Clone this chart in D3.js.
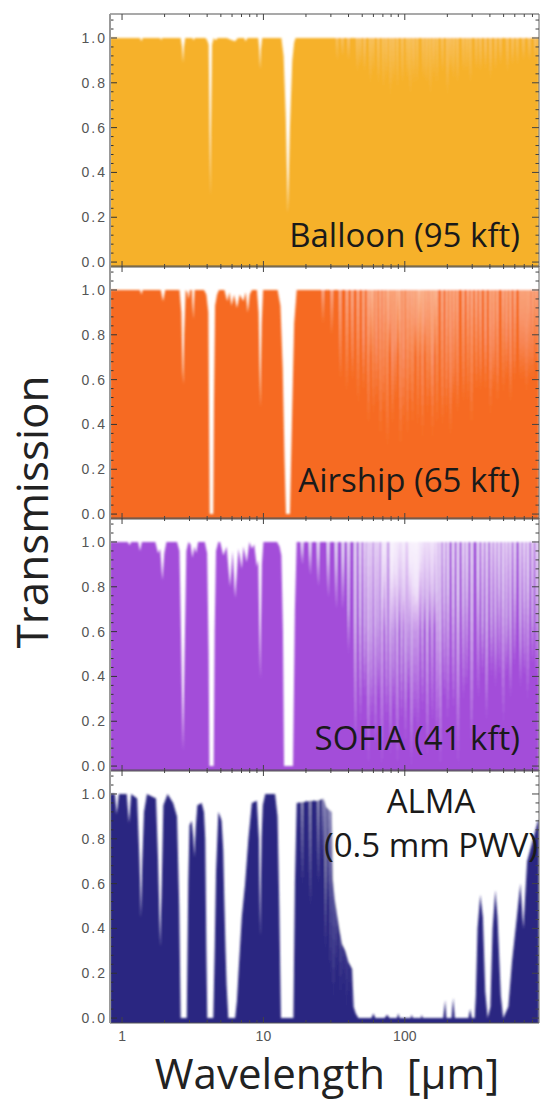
<!DOCTYPE html>
<html><head><meta charset="utf-8">
<script src="https://cdn.jsdelivr.net/npm/d3@7"></script>
<style>html,body{margin:0;padding:0;background:#fff;} svg{display:block;}</style>
</head><body>
<svg id="chart" width="542" height="1102"></svg>
<script>
// ---------- data ----------
const xTickValues = [1, 10, 100];
const xTickLabels = ["1", "10", "100"];
const xMinorTicks = [2,3,4,5,6,7,8,9,20,30,40,50,60,70,80,90,200,300,400,500,600,700,800];
const yTickValues = [0, 0.2, 0.4, 0.6, 0.8, 1.0];
const yTickLabels = ["0.0", "0.2", "0.4", "0.6", "0.8", "1.0"];
const yMinorTicks = [0.04,0.08,0.12,0.16,0.24,0.28,0.32,0.36,0.44,0.48,0.52,0.56,0.64,0.68,0.72,0.76,0.84,0.88,0.92,0.96,1.04,1.08];
const panelLabels = [["Balloon (95 kft)"], ["Airship (65 kft)"], ["SOFIA (41 kft)"], ["ALMA", "(0.5 mm PWV)"]];
const panelColors = ["#F6B12C", "#F66B22", "#A34DD9", "#2A2581"];

// [wavelength (µm), transmission]
const balloonSpectrum = [
 [0.822,1],[1.34,1],[1.37,0.985],[1.40,1],[1.86,1],[1.89,0.99],[1.92,1],
 [2.60,1],[2.66,0.96],[2.70,0.89],[2.74,0.96],[2.80,1],
 [3.15,1],[3.2,0.99],[3.28,1],[3.9,1],[4.0,0.99],[4.1,0.97],[4.16,0.6],[4.2,0.3],[4.26,0.6],[4.33,0.97],[4.45,1],
 [4.6,0.99],[4.75,1],[5.5,1],[6.0,0.99],[6.3,0.985],[6.6,1],[7.3,1],[7.5,0.985],[7.7,1],
 [9.2,1],[9.35,0.95],[9.47,0.86],[9.6,0.95],[9.8,1],
 [13.4,1],[13.9,0.92],[14.4,0.65],[14.9,0.22],[15.4,0.6],[16.0,0.9],[16.5,0.98],[16.9,1],
 [890,1]
];
const airshipSpectrum = [
 [0.822,1],[1.34,1],[1.37,0.98],[1.40,1],[1.88,1],[1.95,0.95],[2.02,1],
 [2.55,1],[2.63,0.9],[2.68,0.65],[2.71,0.58],[2.75,0.8],[2.82,1],
 [2.9,0.99],[2.96,0.96],[3.02,1],[3.12,1],[3.19,0.87],[3.26,1],
 [3.8,1],[3.95,0.98],[4.08,0.9],[4.14,0.3],[4.17,0],[4.42,0],[4.47,0.5],[4.55,0.93],[4.7,0.98],[4.85,1],
 [5.3,1],[5.55,0.95],[5.75,0.99],[5.95,0.93],[6.2,0.98],[6.5,0.92],[6.8,0.98],[7.2,0.95],[7.5,0.99],[7.75,0.9],[8.0,0.98],[8.3,1],
 [9.0,1],[9.25,0.9],[9.5,0.48],[9.72,0.85],[9.95,1],
 [12.6,1],[13.2,0.93],[13.7,0.65],[14.1,0.25],[14.45,0],[15.4,0],[15.9,0.4],[16.5,0.85],[17.2,1],
 [890,1]
];
const sofiaSpectrum = [
 [0.822,1],[1.10,1],[1.13,0.985],[1.16,1],[1.30,1],[1.34,0.96],[1.38,1],
 [1.72,1],[1.80,0.95],[1.86,0.97],[1.93,0.83],[1.99,0.95],[2.06,1],
 [2.45,1],[2.55,0.96],[2.62,0.55],[2.70,0.07],[2.77,0.5],[2.85,0.96],[2.95,1],
 [3.05,0.99],[3.15,0.93],[3.25,0.98],[3.35,0.95],[3.45,1],
 [3.85,1],[4.0,0.95],[4.1,0.5],[4.15,0],[4.45,0],[4.52,0.6],[4.62,0.96],[4.8,1],
 [4.94,1],[5.21,0.94],[5.49,0.98],[5.81,0.8],[6.06,0.96],[6.31,0.75],[6.66,0.97],[7.03,0.88],[7.22,0.98],[7.62,0.91],[7.96,1],[8.28,0.97],[8.6,0.99],[8.99,0.89],
 [9.2,0.92],[9.48,0.39],[9.75,0.9],[10.0,1],
 [12.5,1],[13.0,0.98],[13.4,0.94],[13.75,0.6],[14.0,0],[16.2,0],[16.7,0.7],[17.2,1],
 [890,1]
];
const almaSpectrum = [
 [0.822,1],[0.89,1],[0.917,0.91],[0.95,1],[1.08,1],[1.12,0.87],[1.16,1],
 [1.28,0.98],[1.33,0.7],[1.36,0.45],[1.39,0.7],[1.43,0.92],[1.50,1],
 [1.74,0.98],[1.80,0.7],[1.86,0.32],[1.91,0.6],[1.96,0.95],[2.10,1],
 [2.30,0.96],[2.45,0.9],[2.54,0.5],[2.60,0],[2.87,0],[2.94,0.6],[3.0,0.86],[3.11,0.88],[3.2,0.8],[3.25,0.72],[3.32,0.85],[3.41,0.95],[3.66,0.96],[3.8,0.92],[3.88,0.8],[3.95,0.3],[4.01,0],
 [4.42,0],[4.52,0.3],[4.62,0.65],[4.8,0.92],[4.95,0.9],[5.06,0.88],[5.2,0.75],[5.28,0.55],[5.4,0.3],[5.49,0.15],[5.65,0],
 [6.31,0],[6.5,0.08],[6.66,0.2],[7.03,0.45],[7.42,0.6],[7.83,0.8],[8.28,0.96],[8.99,0.97],[9.3,0.8],[9.48,0.37],[9.7,0.8],[9.9,0.95],[10.3,1],
 [12.1,1],[12.6,0.9],[12.96,0.5],[13.3,0],[16.3,0],[16.7,0.6],[17.2,0.96],[21.4,0.97],[24,0.97],[26.6,0.98],[28,0.94],[30.5,0.92],[31,0.62],[32,0.53],[34,0.42],[36,0.33],[38,0.30],[40,0.25],[42.5,0.22],[43.5,0.05],[45,0.02],[47,0],
 [58,0],[60,0.02],[62,0],[72,0],[75,0.015],[78,0],[88,0],[90,0.02],[92,0],[110,0],[112,0.015],[114,0],[130,0],[132,0.015],[134,0],
 [187,0],[193,0.08],[197,0],[214,0],[220,0.09],[226,0],[282,0],[290,0.04],[298,0],[312,0],[318,0.1],[327,0.4],[342,0.55],[357,0.45],[371,0.12],[386,0],[403,0.05],[418,0.4],[437,0.57],[453,0.45],[478,0.1],[497,0],[540,0.05],[573,0.25],[620,0.45],[657,0.6],[690,0.4],[733,0.7],[810,0.8],[875,0.88],[890,0.88]
];

// narrow absorption lines: [wavelength (µm), minimum transmission]
const balloonLines = [[33.2,0.9],[36.1,0.92],[40,0.9],[46.1,0.85],[48.4,0.88],[52,0.85],[56.9,0.8],[59.7,0.85],[64.9,0.8],[70.3,0.78],[74,0.82],[78.9,0.75],[83,0.8],[88.3,0.78],[95.9,0.8],[104,0.82],[109,0.75],[115,0.8],[122,0.8],[135,0.82],[143,0.8],[151,0.75],[160,0.82],[169,0.8],[184,0.85],[200,0.75],[210,0.85],[222,0.82],[235,0.8],[259,0.85],[275,0.85],[290,0.8],[320,0.86],[342,0.85],[372,0.86],[403,0.82],[440,0.86],[474,0.88],[531,0.85],[580,0.88],[624,0.88],[689,0.9],[760,0.9],[840,0.9]];
const airshipLines = [[26.4,0.85],[30.5,0.8],[34.9,0.6],[39.0,0.55],[42.5,0.6],[46.7,0.5],[51,0.55],[55.1,0.4],[57.5,0.7],[59.7,0.45],[63,0.5],[67.0,0.35],[71,0.45],[75.0,0.3],[78,0.7],[81.9,0.4],[86,0.5],[89.5,0.7],[92.9,0.3],[98,0.4],[104,0.35],[109,0.5],[114,0.4],[119,0.7],[124,0.4],[128,0.7],[133,0.35],[138,0.7],[144,0.45],[151,0.5],[157,0.35],[163,0.7],[169,0.4],[184,0.4],[198,0.45],[210,0.35],[222,0.5],[235,0.45],[259,0.5],[280,0.5],[298,0.4],[320,0.55],[342,0.55],[372,0.55],[403,0.45],[425,0.55],[451,0.5],[496,0.55],[525,0.6],[558,0.5],[600,0.6],[657,0.6],[690,0.6],[725,0.55],[760,0.6],[804,0.6],[850,0.65]];
const sofiaLines = [[18.8,0.9],[21.4,0.85],[24.4,0.8],[28.7,0.75],[32.7,0.7],[36.5,0.7],[40,0.5],[44.6,0.1],[48.4,0.2],[52,0.3],[55.1,0.0],[58,0.2],[61.8,0.1],[65,0.3],[69.0,0.0],[71.5,0.6],[74,0.2],[78.9,0.05],[81,0.6],[83,0.25],[85.5,0.6],[88.3,0.0],[91.5,0.6],[95,0.2],[98,0.6],[101,0.1],[106,0.3],[109,0.6],[112,0.0],[115,0.6],[118,0.2],[121,0.6],[124,0.15],[128,0.6],[133,0.25],[138,0.6],[144,0.05],[150,0.6],[156,0.2],[162,0.6],[169,0.1],[178,0.0],[190,0.3],[202,0.2],[220,0.25],[238,0.0],[259,0.3],[275,0.35],[298,0.1],[330,0.3],[355,0.4],[380,0.2],[410,0.4],[437,0.35],[465,0.4],[496,0.2],[525,0.4],[558,0.3],[600,0.45],[657,0.35],[700,0.4],[743,0.3],[800,0.45],[859,0.4]];
const almaLines = [[18.8,0.6],[21.4,0.5],[24.4,0.6],[26.4,0.7],[27.5,0.3],[29,0.5],[30,0.2],[31.5,0.1],[33,0.2],[35,0.1],[37,0.15],[39,0.05],[41,0.1],[43,0.02]];

const spectra = [balloonSpectrum, airshipSpectrum, sofiaSpectrum, almaSpectrum];
const lineLists = [balloonLines, airshipLines, sofiaLines, almaLines];

// ---------- layout / style ----------
const svg = d3.select("#chart");
const left = 110, right = 539;
const panelTop = [14, 266, 518, 770];
const panelH = 253;
const streakW = [1.3, 1.8, 2.6, 1.8];
const streakO = [0.45, 0.6, 0.85, 0.6];
const labelBaselines = [[247], [492], [750], [813, 857]];

const x = d3.scaleLog().domain([0.822, 890]).range([left, right]);
const defs = svg.append("defs");
const blur = defs.append("filter").attr("id", "soft")
  .attr("x", "-2%").attr("y", "-2%").attr("width", "104%").attr("height", "104%");
blur.append("feGaussianBlur").attr("stdDeviation", 0.8);

spectra.forEach((spec, i) => {
  const top = panelTop[i], bottom = top + panelH;
  const y = d3.scaleLinear().domain([-0.022, 1.107]).range([bottom, top]);
  const g = svg.append("g");
  defs.append("clipPath").attr("id", "clip" + i)
    .append("rect").attr("x", left).attr("y", top).attr("width", right - left).attr("height", panelH);
  const plot = g.append("g").attr("clip-path", `url(#clip${i})`).append("g").attr("filter", "url(#soft)");
  const area = d3.area().x(d => x(d[0])).y0(bottom + 4).y1(d => y(d[1]));
  plot.append("path").datum(spec).attr("d", area).attr("fill", panelColors[i]);
  const w = streakW[i];
  plot.selectAll("polygon.line").data(lineLists[i]).join("polygon")
    .attr("points", d => {
      const cx = x(d[0]), y1 = y(1.0) - 1, y2 = y(d[1]);
      return `${cx - w/2},${y1} ${cx + w/2},${y1} ${cx},${y2}`;
    })
    .attr("fill", "#fff").attr("fill-opacity", streakO[i]);

  // frame
  g.append("line").attr("x1", left).attr("x2", right).attr("y1", top).attr("y2", top).attr("stroke", "#555").attr("stroke-width", 1.2);
  g.append("line").attr("x1", left).attr("x2", right).attr("y1", bottom).attr("y2", bottom).attr("stroke", "#555").attr("stroke-width", 1.2);
  g.append("line").attr("x1", right).attr("x2", right).attr("y1", top).attr("y2", bottom).attr("stroke", "#666").attr("stroke-width", 1);

  // x ticks (top & bottom, inward)
  const xt = [...xTickValues.map(v => [v, 6]), ...xMinorTicks.map(v => [v, 3])];
  xt.forEach(([v, len]) => {
    g.append("line").attr("x1", x(v)).attr("x2", x(v)).attr("y1", top).attr("y2", top + len).attr("stroke", "#444");
    g.append("line").attr("x1", x(v)).attr("x2", x(v)).attr("y1", bottom).attr("y2", bottom - len).attr("stroke", "#444");
  });
  // y ticks (left & right, inward)
  const yt = [...yTickValues.map(v => [v, 7]), ...yMinorTicks.map(v => [v, 3.5])];
  yt.forEach(([v, len]) => {
    g.append("line").attr("x1", left).attr("x2", left + len).attr("y1", y(v)).attr("y2", y(v)).attr("stroke", "#333");
    g.append("line").attr("x1", right).attr("x2", right - len).attr("y1", y(v)).attr("y2", y(v)).attr("stroke", "#444");
  });
  // y labels
  g.selectAll("text.yl").data(yTickValues).join("text")
    .attr("x", 107).attr("y", v => y(v)).attr("dy", "0.35em")
    .attr("text-anchor", "end").attr("font-family", "Liberation Sans, Arial, sans-serif")
    .attr("font-size", 14).attr("letter-spacing", 2).attr("fill", "#555")
    .text((v, k) => yTickLabels[k]);

  // panel label
  const lab = panelLabels[i];
  lab.forEach((t, k) => {
    const multi = lab.length > 1;
    g.append("text").attr("x", multi ? 431 : 520).attr("y", labelBaselines[i][k])
      .attr("text-anchor", multi ? "middle" : "end")
      .attr("font-family", "Open Sans, sans-serif").attr("font-size", 33)
      .attr("fill", "#1a1a1a").text(t);
  });
});

// left axis line through all panels
svg.append("line").attr("x1", left).attr("x2", left).attr("y1", panelTop[0]).attr("y2", panelTop[3] + panelH)
  .attr("stroke", "#999").attr("stroke-width", 2);

// x tick labels
svg.selectAll("text.xl").data(xTickValues).join("text")
  .attr("x", v => x(v)).attr("y", 1041).attr("text-anchor", "middle")
  .attr("font-family", "Liberation Sans, Arial, sans-serif").attr("font-size", 14).attr("fill", "#555")
  .text((v, k) => xTickLabels[k]);

// axis titles
svg.append("text").attr("x", 327).attr("y", 1089).attr("text-anchor", "middle")
  .attr("font-family", "Open Sans, sans-serif").attr("font-size", 42).attr("fill", "#222")
  .text("Wavelength\u00A0 [µm]");
svg.append("text").attr("transform", "translate(48,512) rotate(-90)").attr("text-anchor", "middle")
  .attr("font-family", "Open Sans, sans-serif").attr("font-size", 44).attr("fill", "#222")
  .text("Transmission");
</script>
</body></html>
